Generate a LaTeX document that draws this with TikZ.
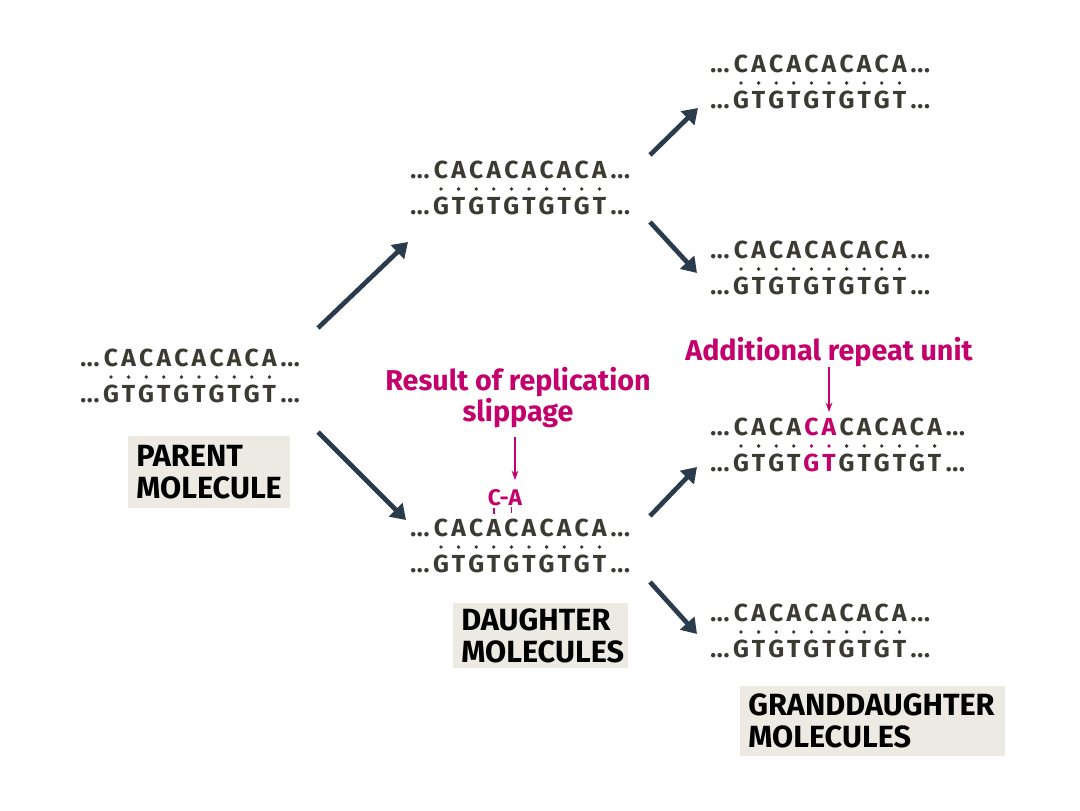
\documentclass[tikz,border=0pt]{standalone}
\usepackage{fontspec}
\setmainfont{Fira Sans}
\usetikzlibrary{arrows.meta,calc}
\definecolor{seqink}{HTML}{3C3B33}
\definecolor{arrowink}{HTML}{2A3B4C}
\definecolor{slipred}{HTML}{C4006C}
\definecolor{boxfill}{HTML}{ECEAE2}

% 省略号（分开的三个点）
\newcommand{\etc}{{.}\kern0.6pt{.}\kern0.6pt{.}}
% 双链：#1 名称, #2 左端基线坐标, #3 碱基对数, #4 标红的第一对 (0 = 无)
\newcommand{\duplex}[4]{%
  \coordinate (#1) at (#2);
  \node[seq,anchor=base west] (#1-l) at (#1) {\etc};
  \foreach \i in {1,...,#3}{
    \ifodd\i \def\up{C}\def\dn{G}\else \def\up{A}\def\dn{T}\fi
    \pgfmathtruncatemacro{\hl}{and(#4>0,or(\i==#4,\i==#4+1))}
    \ifnum\hl=1 \def\col{slipred}\else \def\col{seqink}\fi
    \node[seq,text=\col,anchor=base] (#1-t\i) at ($(#1)+({31+(\i-1)*17.6},0)$) {\up};
    \fill[\col] ($(#1)+({31+(\i-1)*17.6},11)$) circle (1.9);
    \node[seq,text=\col,anchor=base] (#1-b\i) at ($(#1)+({31+(\i-1)*17.6},36)$) {\dn};
  }
  \node[seq,anchor=base east] (#1-r) at ($(#1)+({31+(#3-1)*17.6+30.8},0)$) {\etc};
  \node[seq,anchor=base west] (#1-bl) at ($(#1)+(0,36)$) {\etc};
  \node[seq,anchor=base east] (#1-br) at ($(#1)+({31+(#3-1)*17.6+30.8},36)$) {\etc};
}

\begin{document}
\begin{tikzpicture}[x=0.75pt,y=-0.75pt,
  seq/.style={font=\bfseries\fontsize{18.5}{20}\selectfont,text=seqink,inner sep=0pt},
  growarrow/.style={draw=arrowink,line width=3.5pt,-{Triangle[length=11pt,width=14pt]}},
  pointer/.style={draw=slipred,line width=1.3pt,-{Stealth[length=7pt,width=5pt]}},
  note/.style={font=\bfseries\fontsize{21.5}{23.25}\selectfont,text=slipred,align=center,inner sep=0pt},
  tag/.style={fill=boxfill,font=\bfseries\fontsize{23}{24}\selectfont,text=black,
    align=left,anchor=north west,inner xsep=6pt,inner ysep=0pt}]
\fill[white] (0,0) rectangle (1080,810);
\useasboundingbox (0,0) rectangle (1080,810);
% ---------- 亲代 ----------
\duplex{par}{80,366}{10}{0}
\node[tag,text width=109.5pt,minimum height=54pt] (partag) at (128,436) {PARENT\\MOLECULE};
% ---------- 子代 ----------
\duplex{dup}{410,178}{10}{0}
\duplex{dlo}{410,536}{10}{0}
\node[tag,text width=119.25pt,minimum height=48.75pt] (dtag) at (453,603) {DAUGHTER\\MOLECULES};
% 复制滑动
\node[note,anchor=base] (slipnote) at (518,421) {Result of replication\\slippage};
\coordinate (slipA) at (515,437);
\coordinate (slipB) at (515,480);
\draw[pointer] (slipA) -- (slipB);
\node[note,font=\bfseries\fontsize{17}{18}\selectfont,anchor=base] (slipmark) at (505,505) {C-A};
\foreach \k in {4,5}
  \draw[slipred,line width=1.2pt] ($(dlo-t\k.north)+(0,-5)$) -- ++(0,-6);
% ---------- 孙代 ----------
\duplex{gone}{710,72}{10}{0}
\duplex{gtwo}{710,258}{10}{0}
\duplex{gthree}{710,435}{12}{5}
\duplex{gfour}{710,621}{10}{0}
\node[note,anchor=base] (addnote) at (829,360) {Additional repeat unit};
\coordinate (addA) at (829,367);
\coordinate (addB) at (829,412);
\draw[pointer] (addA) -- (addB);
\node[tag,text width=186.75pt,minimum height=52.5pt] (gtag) at (740,686) {GRANDDAUGHTER\\MOLECULES};
% ---------- 箭头 ----------
\coordinate (p1) at (318,328);  \coordinate (q1) at (408,242);
\coordinate (p2) at (318,432);  \coordinate (q2) at (406,520);
\coordinate (p3) at (650,155);  \coordinate (q3) at (698,108);
\coordinate (p4) at (650,222);  \coordinate (q4) at (697,273);
\coordinate (p5) at (650,516);  \coordinate (q5) at (697,467);
\coordinate (p6) at (650,582);  \coordinate (q6) at (697,634);
\foreach \k in {1,...,6}
  \draw[growarrow] (p\k) -- (q\k);
\end{tikzpicture}
\end{document}
